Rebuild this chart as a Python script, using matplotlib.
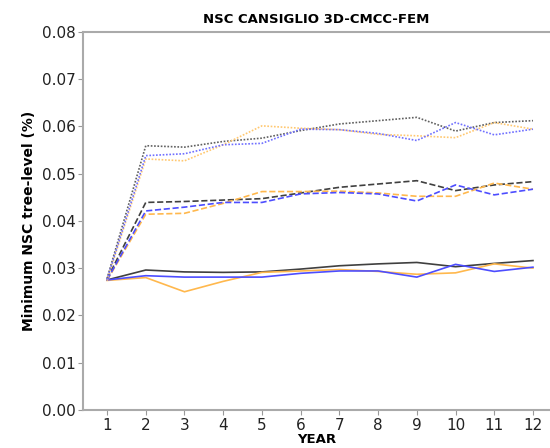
import matplotlib
matplotlib.use('Agg')
import matplotlib.pyplot as plt
import numpy as np

years = np.arange(1, 13)

# solid lines
black_solid = [0.0275, 0.0296, 0.0292, 0.0291, 0.0292, 0.0298, 0.0305, 0.0309, 0.0312, 0.0303, 0.0310, 0.0316]
orange_solid = [0.0274, 0.0280, 0.0250, 0.0272, 0.0291, 0.0294, 0.0297, 0.0293, 0.0287, 0.0290, 0.0309, 0.0300]
blue_solid = [0.0275, 0.0284, 0.0281, 0.0281, 0.0281, 0.0289, 0.0294, 0.0294, 0.0281, 0.0308, 0.0293, 0.0302]

# dashed lines
black_dash = [0.0277, 0.0439, 0.0441, 0.0444, 0.0447, 0.0459, 0.0471, 0.0478, 0.0485, 0.0464, 0.0476, 0.0483]
orange_dash = [0.0274, 0.0414, 0.0416, 0.0437, 0.0462, 0.0462, 0.0463, 0.0459, 0.0452, 0.0452, 0.0480, 0.0467]
blue_dash = [0.0275, 0.0421, 0.0429, 0.0439, 0.0439, 0.0457, 0.0460, 0.0457, 0.0442, 0.0476, 0.0455, 0.0467]

# dotted lines
black_dot = [0.0278, 0.0559, 0.0556, 0.0568, 0.0575, 0.0591, 0.0605, 0.0612, 0.0619, 0.0590, 0.0608, 0.0612]
orange_dot = [0.0274, 0.0531, 0.0527, 0.0561, 0.0601, 0.0596, 0.0593, 0.0583, 0.0580, 0.0576, 0.0608, 0.0594]
blue_dot = [0.0276, 0.0538, 0.0542, 0.0561, 0.0564, 0.0594, 0.0593, 0.0585, 0.0570, 0.0608, 0.0582, 0.0594]

fig = plt.figure(figsize=(5.5, 4.48), dpi=100)
ax = fig.add_axes([0.151, 0.085, 0.849, 0.844])

c_black = '#404040'
c_orange = '#ffb84d'
c_blue = '#4d4dff'

ax.plot(years, black_solid, color=c_black, lw=1.2)
ax.plot(years, orange_solid, color=c_orange, lw=1.2)
ax.plot(years, blue_solid, color=c_blue, lw=1.2)

ax.plot(years, black_dash, color=c_black, lw=1.2, ls='--')
ax.plot(years, orange_dash, color=c_orange, lw=1.2, ls='--')
ax.plot(years, blue_dash, color=c_blue, lw=1.2, ls='--')

dots = (0, (1, 1))
ax.plot(years, black_dot, color='#606060', lw=1.2, ls=dots)
ax.plot(years, orange_dot, color='#ffc870', lw=1.2, ls=dots)
ax.plot(years, blue_dot, color='#7070ff', lw=1.2, ls=dots)

ax.set_xlim(0.38, 12.44)
ax.set_ylim(0, 0.08)
ax.set_xticks(years)
ax.set_yticks(np.arange(0, 0.081, 0.01))
ax.yaxis.set_major_formatter(matplotlib.ticker.FormatStrFormatter('%.2f'))
ax.tick_params(labelsize=11, colors='#999999', labelcolor='#222222', pad=2)
for s in ax.spines.values():
    s.set_color('#aaaaaa')
    s.set_linewidth(1.5)
ax.spines['right'].set_visible(False)

ax.set_title('NSC CANSIGLIO 3D-CMCC-FEM', fontsize=9.5, fontweight='bold', pad=6)
ax.set_xlabel('YEAR', fontsize=9.5, fontweight='bold', labelpad=0)
ax.set_ylabel('Minimum NSC tree-level (%)', fontsize=10, fontweight='bold')

fig.savefig('out.png', dpi=100)
